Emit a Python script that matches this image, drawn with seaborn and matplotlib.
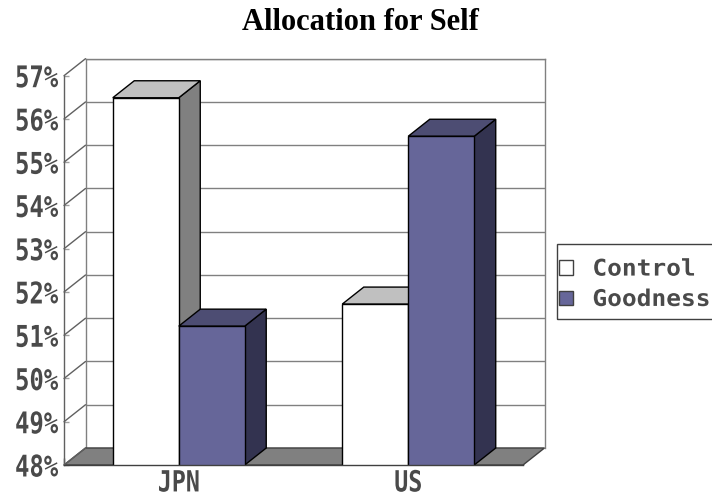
import matplotlib
matplotlib.use("Agg")
import matplotlib.pyplot as plt
import matplotlib.transforms as mtransforms
import pandas as pd
import seaborn as sns
from matplotlib.lines import Line2D
from matplotlib.patches import Patch, Polygon, Rectangle
from matplotlib.patheffects import AbstractPathEffect
from matplotlib.ticker import FixedLocator, PercentFormatter

# ---- data -------------------------------------------------------------
countries = ["JPN", "US"]
conditions = ["Control", "Goodness"]
control = [56.49, 51.72]      # % allocated to self
goodness = [51.21, 55.60]
y_ticks = [48, 49, 50, 51, 52, 53, 54, 55, 56, 57]

# ---- colours (front / top / side faces of each column) ----------------
face = {"Control": "#ffffff", "Goodness": "#666699"}
top_shade = {"Control": "#c0c0c0", "Goodness": "#4d4d73"}
side_shade = {"Control": "#808080", "Goodness": "#333350"}

df = pd.DataFrame({
    "country": countries * 2,
    "condition": [conditions[0]] * len(countries) + [conditions[1]] * len(countries),
    "share": control + goodness,
})


class Narrow(AbstractPathEffect):
    """Scale glyph outlines horizontally around an anchor (0=left, 1=right)."""

    def __init__(self, sx, anchor=0.5):
        super().__init__()
        self._sx = sx
        self._anchor = anchor

    def draw_path(self, renderer, gc, tpath, affine, rgbFace=None):
        ext = tpath.get_extents()
        px = ext.x0 + self._anchor * ext.width
        squeeze = mtransforms.Affine2D().translate(-px, 0).scale(self._sx, 1).translate(px, 0)
        renderer.draw_path(gc, tpath, squeeze + affine, rgbFace)


W, H, DPI = 712, 499, 100
DX, DY = 21.5, 17.0            # depth of the 3-D box, in pixels
LINE = "#606060"
TEXT = "#4a4a4a"

sns.set_theme(style="white")
plt.rcParams["font.family"] = ["DejaVu Sans"]

fig = plt.figure(figsize=(W / DPI, H / DPI), dpi=DPI)
fig.patch.set_facecolor("white")

# front plane of the box in pixel coordinates (y measured from the top)
left, right, bottom, top = 64.0, 523.0, 465.0, 75.7
pw, ph = (right - left) / W, (bottom - top) / H

# back wall with the horizontal gridlines
back = fig.add_axes([(left + DX) / W, 1 - (bottom - DY) / H, pw, ph])
back.set_ylim(y_ticks[0], y_ticks[-1])
back.set_xlim(-0.5, len(countries) - 0.5)
back.yaxis.set_major_locator(FixedLocator(y_ticks))
back.set_xticks([])
back.tick_params(axis="y", length=0, labelleft=False)
back.grid(axis="y", color="#808080", linewidth=1)
back.set_facecolor("white")
for s in back.spines.values():
    s.set_color("#808080")
    s.set_linewidth(1)
back.spines["bottom"].set_visible(False)

# front axes carrying the columns, ticks and labels
ax = fig.add_axes([left / W, 1 - bottom / H, pw, ph])
ax.set_facecolor("none")
sns.barplot(data=df, x="country", y="share", hue="condition",
            order=countries, hue_order=conditions, palette=face,
            saturation=1, width=0.575, errorbar=None,
            edgecolor="black", linewidth=1, legend=False, ax=ax)
ax.set_ylim(y_ticks[0], y_ticks[-1])
ax.set_xlim(-0.5, len(countries) - 0.5)
ax.set_xlabel("")
ax.set_ylabel("")

ident = mtransforms.IdentityTransform()

# floor of the box
f0 = ax.transAxes.transform((0, 0))
f1 = ax.transAxes.transform((1, 0))
floor = Polygon([f0, f1, (f1[0] + DX, f1[1] + DY), (f0[0] + DX, f0[1] + DY)],
                closed=True, facecolor="#808080", edgecolor="#404040",
                linewidth=1, transform=ident, clip_on=False, zorder=1.5)
ax.add_artist(floor)

# diagonal links from the value axis to the back wall
for v in y_ticks:
    p = ax.get_yaxis_transform().transform((0, v))
    ax.add_artist(Line2D([p[0], p[0] + DX], [p[1], p[1] + DY], color=LINE,
                         linewidth=1, transform=ident, clip_on=False, zorder=1.6))

# top and side faces of every column
ymin = ax.get_ylim()[0]
for i, (cond, cont) in enumerate(zip(conditions, ax.containers)):
    for bar in cont:
        x0 = bar.get_x()
        x1 = x0 + bar.get_width()
        yt = bar.get_y() + bar.get_height()
        yb = max(bar.get_y(), ymin)
        X0, YT = ax.transData.transform((x0, yt))
        X1, YB = ax.transData.transform((x1, yb))
        side = Polygon([(X1, YB), (X1, YT), (X1 + DX, YT + DY), (X1 + DX, YB + DY)],
                       closed=True, facecolor=side_shade[cond], edgecolor="black",
                       linewidth=1, transform=ident, clip_on=False, zorder=2 + 0.2 * i)
        cap = Polygon([(X0, YT), (X1, YT), (X1 + DX, YT + DY), (X0 + DX, YT + DY)],
                      closed=True, facecolor=top_shade[cond], edgecolor="black",
                      linewidth=1, transform=ident, clip_on=False, zorder=2 + 0.2 * i)
        ax.add_artist(side)
        ax.add_artist(cap)
        bar.set_zorder(2.1 + 0.2 * i)

# axes lines
for s in ("top", "right"):
    ax.spines[s].set_visible(False)
ax.spines["left"].set_color(LINE)
ax.spines["bottom"].set_color("#404040")
for s in ("left", "bottom"):
    ax.spines[s].set_linewidth(1)
    ax.spines[s].set_zorder(3)

# value axis
ax.yaxis.set_major_locator(FixedLocator(y_ticks))
ax.yaxis.set_major_formatter(PercentFormatter(100, decimals=0))
ax.tick_params(axis="y", direction="in", length=3.5, width=1, color="#a0a0a0",
               pad=4.1, labelsize=21.5, labelcolor=TEXT, left=True)
for lbl in ax.get_yticklabels():
    lbl.set_fontfamily("DejaVu Sans Mono")
    lbl.set_fontweight("bold")
    lbl.set_path_effects([Narrow(0.8, 1.0)])

# category axis
ax.set_xticks(range(len(countries)))
ax.set_xticklabels(countries)
ax.xaxis.set_minor_locator(FixedLocator([k - 0.5 for k in range(len(countries) + 1)]))
ax.tick_params(axis="x", which="major", length=0, pad=3.2, labelsize=21, labelcolor=TEXT)
ax.tick_params(axis="x", which="minor", direction="in", length=5, width=1,
               color="#404040", bottom=True)
for lbl in ax.get_xticklabels():
    lbl.set_fontfamily("DejaVu Sans Mono")
    lbl.set_fontweight("bold")
    lbl.set_path_effects([Narrow(0.8, 0.5)])

# legend
fs_pt = 16.5
fs_px = fs_pt * DPI / 72
handles = [Patch(facecolor=face[c], edgecolor="#404040", linewidth=1) for c in conditions]
leg = fig.legend(handles, conditions, loc="center left",
                 bbox_to_anchor=(559 / W, 1 - 284.25 / H), frameon=False,
                 borderpad=0, borderaxespad=0,
                 handlelength=14 / fs_px, handleheight=13 / fs_px,
                 handletextpad=0.85, labelspacing=0.32,
                 prop={"family": "DejaVu Sans Mono", "size": fs_pt, "weight": "bold"},
                 labelcolor=TEXT)
for t in leg.get_texts():
    t.set_path_effects([Narrow(1.07, 0.0)])
fig.add_artist(Rectangle((556.7 / W, 1 - 319 / H), (730 - 556.7) / W, 75 / H,
                         transform=fig.transFigure, fill=False,
                         edgecolor="#404040", linewidth=1))

fig.suptitle("Allocation for Self", x=360 / W, y=1 - 30 / H, ha="center",
             va="baseline", fontsize=22, fontweight="bold",
             family="Liberation Serif", color="black")

fig.savefig("out.png", dpi=DPI)
